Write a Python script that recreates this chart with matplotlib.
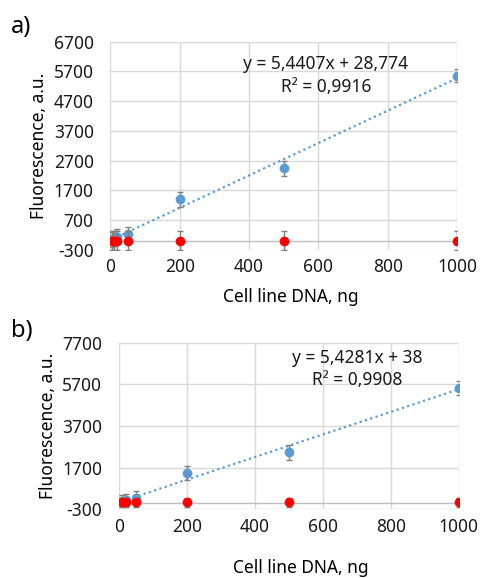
#!/usr/bin/env python3
"""Fluorescence vs cell line DNA, two panels with linear trendlines."""
import matplotlib
matplotlib.use("Agg")
import matplotlib.pyplot as plt
import numpy as np

plt.rcParams["font.family"] = ["Noto Sans", "DejaVu Sans"]
plt.rcParams["axes.unicode_minus"] = False

# panel a
a_x = [5, 10, 20, 50, 200, 500, 1000]
a_blue = [60, 100, 150, 240, 1410, 2440, 5560]
a_blue_err = [250, 250, 250, 230, 250, 250, 220]
a_red = [10, 10, 10, 10, 10, 10, 10]
a_red_err = [320, 320, 320, 320, 320, 320, 320]
a_fit = (5.4407, 28.774)
a_eq = ["y = 5,4407x + 28,774", "R² = 0,9916"]
a_yticks = [-300, 700, 1700, 2700, 3700, 4700, 5700, 6700]

# panel b
b_x = [10, 20, 50, 200, 500, 1000]
b_blue = [100, 150, 260, 1440, 2440, 5540]
b_blue_err = [300, 300, 300, 350, 350, 330]
b_red = [30, 30, 30, 30, 30, 30]
b_red_err = [230, 230, 230, 230, 230, 230]
b_fit = (5.4281, 38.0)
b_eq = ["y = 5,4281x + 38", "R² = 0,9908"]
b_yticks = [-300, 1700, 3700, 5700, 7700]

xticks = [0, 200, 400, 600, 800, 1000]

BLUE = "#5B9BD5"
RED = "#FF0000"
GRID = "#D9D9D9"
ERR = "#7F7F7F"
FS = 12.5


def panel(ax, x, blue, blue_err, red, red_err, fit, eq, yticks, eq_pos):
    ax.set_xlim(0, 1000)
    ax.set_ylim(yticks[0], yticks[-1])
    ax.set_xticks(xticks)
    ax.set_yticks(yticks)
    ax.grid(True, color=GRID, linewidth=1.0)
    ax.set_axisbelow(True)
    for s in ax.spines.values():
        s.set_visible(False)
    ax.axhline(0, color="#BFBFBF", linewidth=1.0, zorder=1)
    ax.tick_params(length=0, labelsize=FS, colors="#1a1a1a")
    ax.tick_params(axis="y", pad=12)
    ax.tick_params(axis="x", pad=6)
    xs = np.array([x[0], x[-1]], dtype=float)
    ax.plot(xs, fit[0] * xs + fit[1], linestyle=(0, (1, 1.5)), color=BLUE,
            linewidth=1.6, zorder=2)
    ax.errorbar(x, blue, yerr=blue_err, fmt="o", color=BLUE, ms=6,
                ecolor=ERR, elinewidth=1, capsize=2.5, zorder=3)
    ax.errorbar(x, red, yerr=red_err, fmt="o", color=RED, ms=6,
                ecolor=ERR, elinewidth=1, capsize=2.5, zorder=4)
    ax.text(eq_pos[0], eq_pos[1], eq[0] + "\n" + eq[1], ha="center", va="top",
            fontsize=FS, linespacing=1.35, color="#1a1a1a")


fig = plt.figure(figsize=(4.8, 5.78), dpi=100)
ax_a = fig.add_axes([0.230, 0.5675, 0.722, 0.3604])
ax_b = fig.add_axes([0.248, 0.1189, 0.708, 0.2882])

panel(ax_a, a_x, a_blue, a_blue_err, a_red, a_red_err, a_fit, a_eq, a_yticks, (622, 6250))
panel(ax_b, b_x, b_blue, b_blue_err, b_red, b_red_err, b_fit, b_eq, b_yticks, (700, 7420))

fig.text(0.606, 0.486, "Cell line DNA, ng", ha="center", va="center", fontsize=FS)
fig.text(0.627, 0.017, "Cell line DNA, ng", ha="center", va="center", fontsize=FS)
fig.text(0.081, 0.747, "Fluorescence, a.u.", ha="center", va="center",
         rotation=90, fontsize=FS)
fig.text(0.100, 0.263, "Fluorescence, a.u.", ha="center", va="center",
         rotation=90, fontsize=FS)
fig.text(0.022, 0.953, "a)", ha="left", va="center", fontsize=17)
fig.text(0.022, 0.428, "b)", ha="left", va="center", fontsize=17)

fig.savefig("out.png", dpi=100)
